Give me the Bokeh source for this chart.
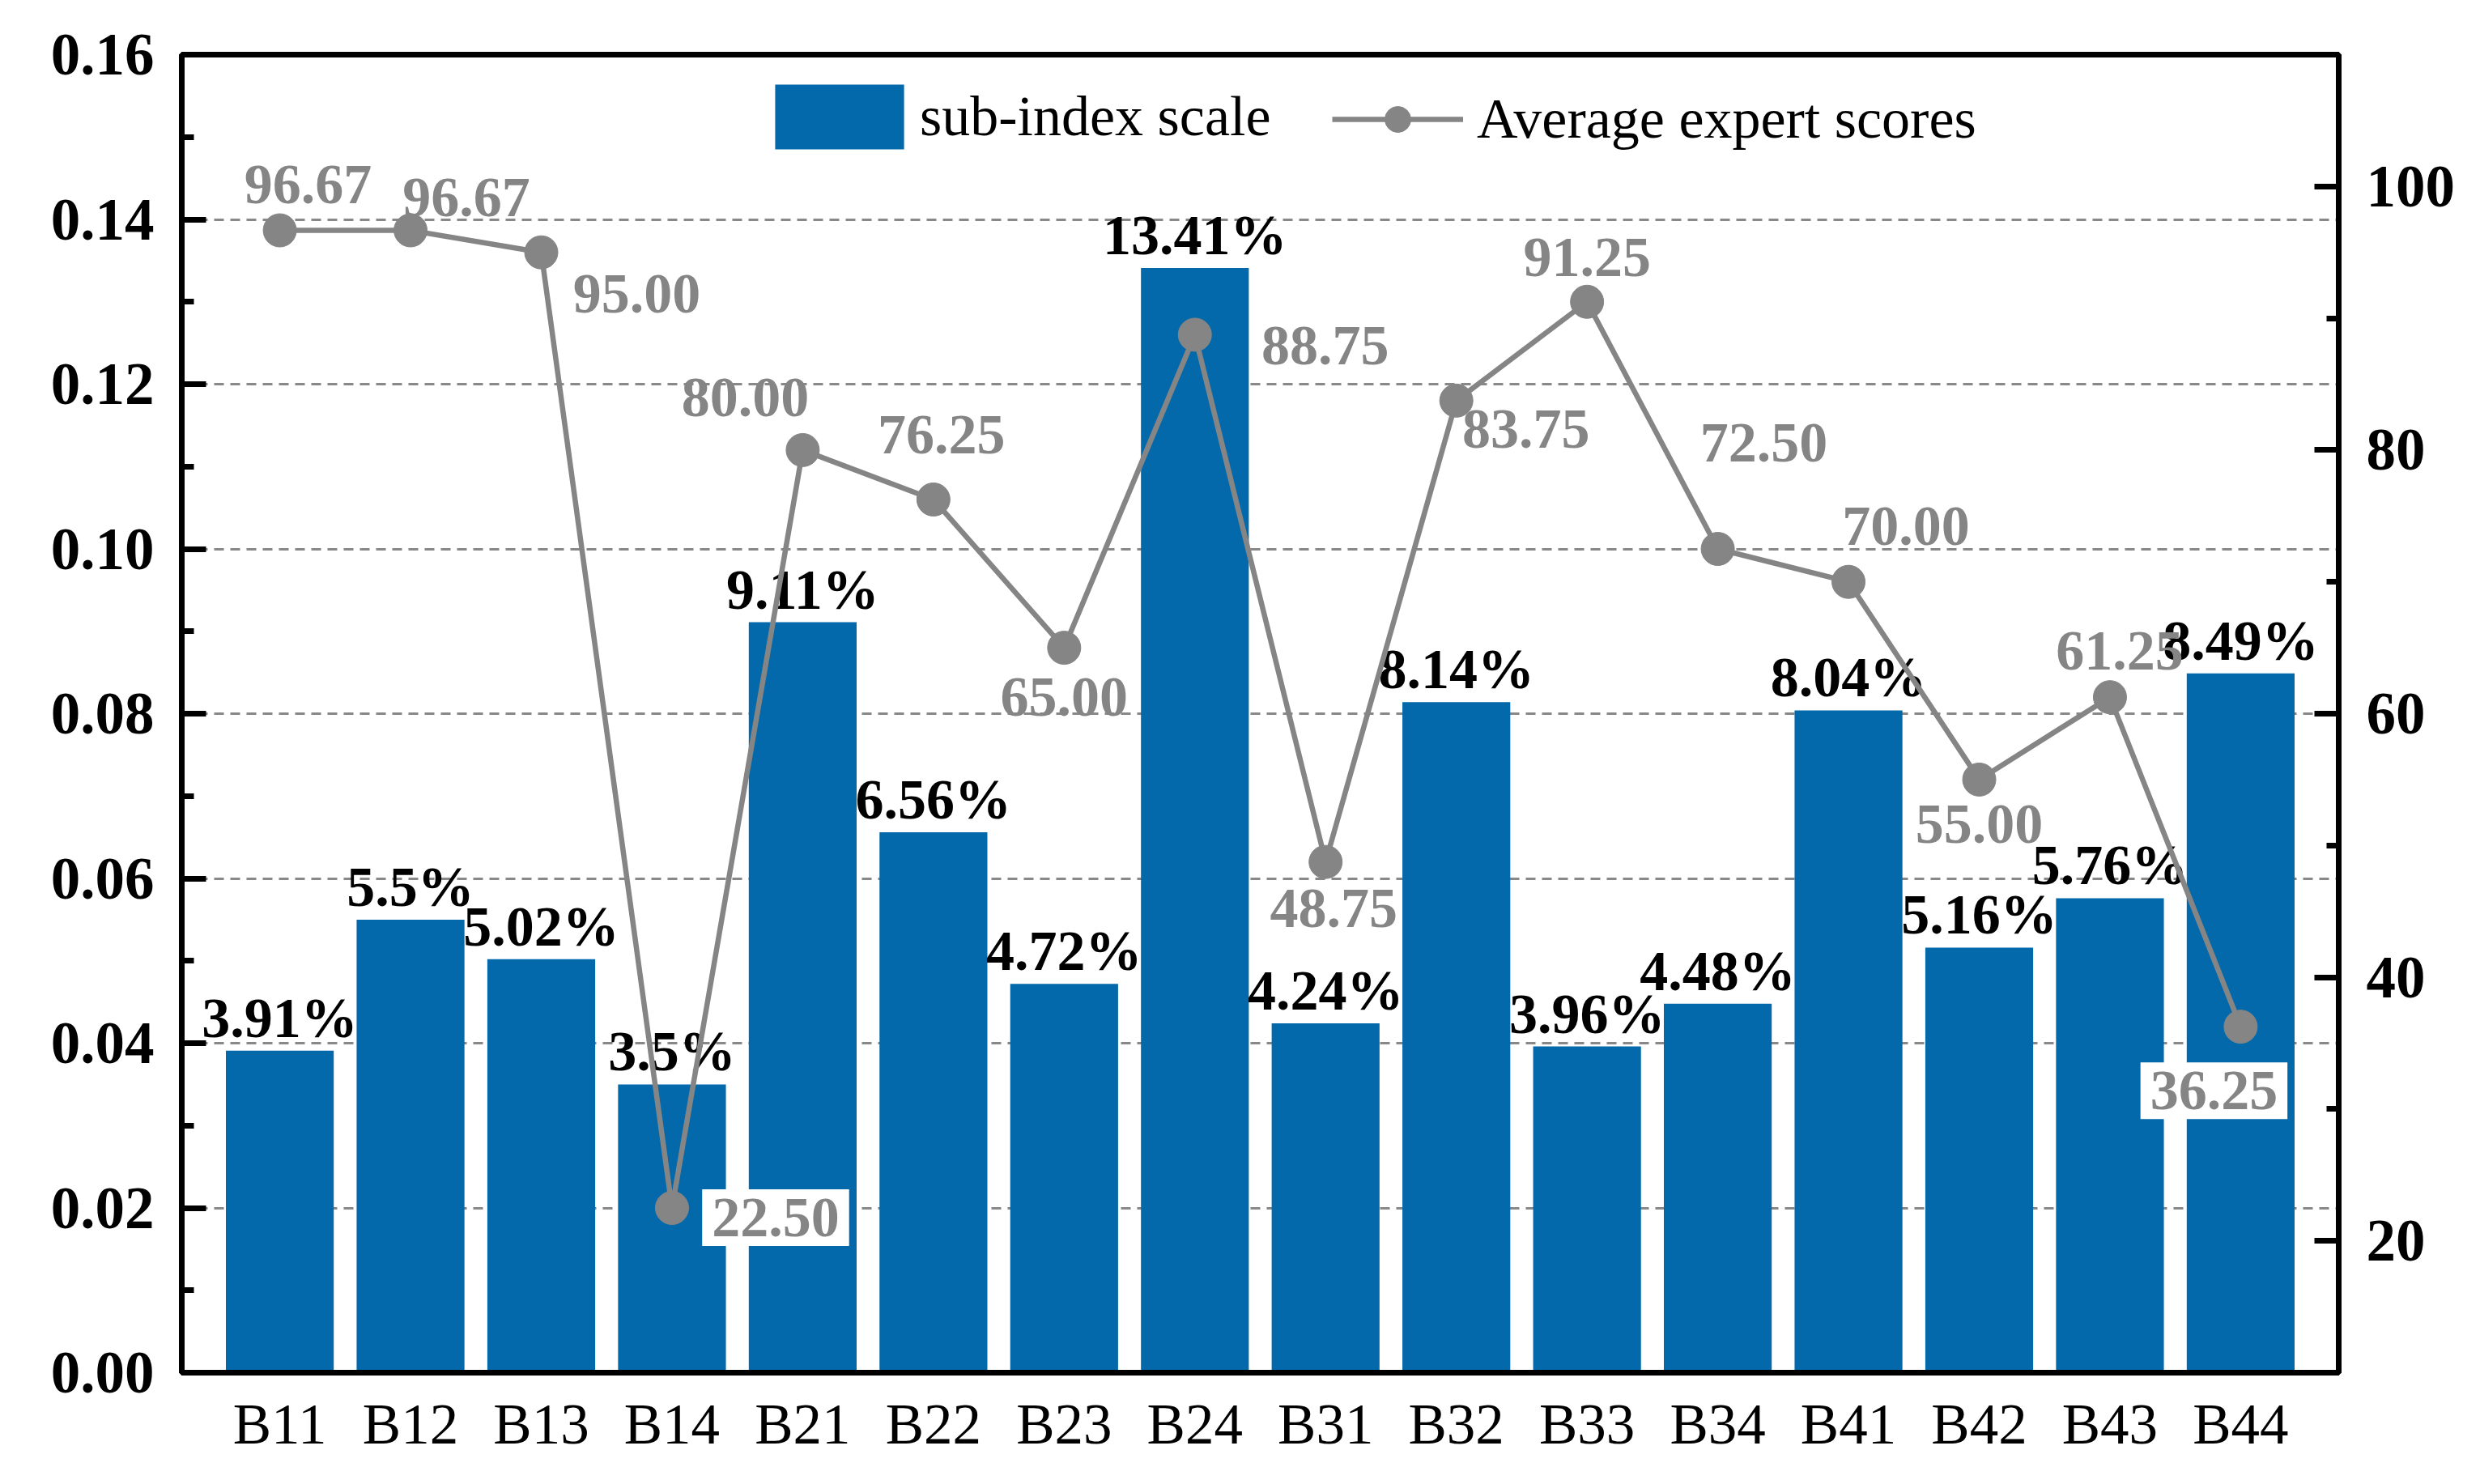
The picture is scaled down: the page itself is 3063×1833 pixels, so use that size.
from bokeh.plotting import figure
from bokeh.models import (ColumnDataSource, FactorRange, Range1d, LinearAxis,
                          FixedTicker, NumeralTickFormatter, Legend, LegendItem)
from bokeh.core.properties import value
from bokeh.embed import file_html
from bokeh.resources import INLINE

# ---------------- data ----------------
categories = ["B11", "B12", "B13", "B14", "B21", "B22", "B23", "B24",
              "B31", "B32", "B33", "B34", "B41", "B42", "B43", "B44"]
sub_index_scale = [0.0391, 0.0550, 0.0502, 0.0350, 0.0911, 0.0656, 0.0472, 0.1341,
                   0.0424, 0.0814, 0.0396, 0.0448, 0.0804, 0.0516, 0.0576, 0.0849]
bar_labels = ["3.91%", "5.5%", "5.02%", "3.5%", "9.11%", "6.56%", "4.72%", "13.41%",
              "4.24%", "8.14%", "3.96%", "4.48%", "8.04%", "5.16%", "5.76%", "8.49%"]
expert_scores = [96.67, 96.67, 95.00, 22.50, 80.00, 76.25, 65.00, 88.75,
                 48.75, 83.75, 91.25, 72.50, 70.00, 55.00, 61.25, 36.25]
left_ticks = [0.00, 0.02, 0.04, 0.06, 0.08, 0.10, 0.12, 0.14, 0.16]
left_minor = [0.01, 0.03, 0.05, 0.07, 0.09, 0.11, 0.13, 0.15]
grid_ticks = [0.02, 0.04, 0.06, 0.08, 0.10, 0.12, 0.14]
right_ticks = [20, 40, 60, 80, 100]
right_minor = [10, 30, 50, 70, 90, 110]

# ---------------- style (label placement, pixels) ----------------
score_dx = [35, 69, 118, 128, -71, 10, 0, 161, 10, 86, 0, 57, 71, 0, 12, -33]
score_dy = [-57, -41, 51, 12, -65, -80, 61, 14, 57, 35, -55, -131, -69, 55, -57, 79]
score_box = [0, 0, 0, 1, 0, 0, 0, 0, 0, 0, 0, 0, 0, 0, 0, 1]

BLUE = "#0369aa"
GRAY = "#858585"
FONT_NAME = "Liberation Serif"
FONT = value(FONT_NAME)

src = ColumnDataSource(dict(
    cat=categories,
    scale=sub_index_scale,
    bar_label=bar_labels,
    score=expert_scores,
    score_label=["%.2f" % v for v in expert_scores],
    dx=score_dx,
    dy=score_dy,
    box=score_box,
))

p = figure(width=3047, height=1817,
           x_range=FactorRange(factors=categories, range_padding=0.25,
                               range_padding_units="absolute"),
           y_range=Range1d(0, 0.16),
           output_backend="svg", toolbar_location=None,
           min_border_left=224, min_border_right=159,
           min_border_top=67, min_border_bottom=122)
p.extra_y_ranges = {"score": Range1d(10, 110)}

p.background_fill_color = "white"
p.outline_line_color = "black"
p.outline_line_width = 7

# grid
p.xgrid.visible = False
p.ygrid.ticker = FixedTicker(ticks=grid_ticks)
p.ygrid.grid_line_color = "#888888"
p.ygrid.grid_line_width = 3
p.ygrid.grid_line_dash = "12 8"

# bars
bars = p.vbar(x="cat", top="scale", width=0.825, source=src,
              fill_color=BLUE, line_color=None)

# bar labels
p.text(x="cat", y="scale", text="bar_label", source=src,
       text_align="center", text_baseline="bottom", y_offset=-2,
       text_font=FONT, text_font_style="bold", text_font_size="70px",
       text_color="black")

# line + markers
line_r = p.line(x="cat", y="score", source=src, y_range_name="score",
                line_color=GRAY, line_width=6.5)
pts = p.scatter(x="cat", y="score", source=src, y_range_name="score",
                size=41, fill_color=GRAY, line_color=GRAY)

# score labels
p.text(x="cat", y="score", text="score_label", source=src, y_range_name="score",
       x_offset="dx", y_offset="dy",
       text_align="center", text_baseline="middle",
       text_font=FONT, text_font_style="bold", text_font_size="70px",
       text_color=GRAY,
       background_fill_color="white", background_fill_alpha="box",
       padding=12)

# left axis
ya = p.yaxis[0]
ya.ticker = FixedTicker(ticks=left_ticks, minor_ticks=left_minor)
ya.formatter = NumeralTickFormatter(format="0.00")

# right axis
ra = LinearAxis(y_range_name="score",
                ticker=FixedTicker(ticks=right_ticks, minor_ticks=right_minor))
p.add_layout(ra, "right")

for ax in (ya, ra):
    ax.axis_line_width = 7
    ax.major_tick_line_width = 7
    ax.minor_tick_line_width = 7
    ax.major_tick_in = 30
    ax.major_tick_out = 0
    ax.minor_tick_in = 15
    ax.minor_tick_out = 0
    ax.major_label_text_font = FONT_NAME
    ax.major_label_text_font_style = "bold"
    ax.major_label_text_font_size = "73px"
    ax.major_label_text_color = "black"
    ax.major_label_standoff = 34

xa = p.xaxis[0]
xa.axis_line_width = 7
xa.major_tick_in = 0
xa.major_tick_out = 0
xa.minor_tick_line_color = None
xa.major_label_text_font = FONT_NAME
xa.major_label_text_font_style = "normal"
xa.major_label_text_font_size = "71px"
xa.major_label_text_color = "black"
xa.major_label_standoff = 24

legend_common = dict(orientation="horizontal", padding=0, margin=0, spacing=0,
                     border_line_alpha=0, background_fill_alpha=0,
                     label_text_font=FONT_NAME, label_text_font_size="70px",
                     label_text_color="black")
legend_bar = Legend(items=[LegendItem(label="sub-index scale", renderers=[bars])],
                    location=(713, 1501), glyph_width=199, glyph_height=100,
                    label_standoff=0, **legend_common)
legend_line = Legend(items=[LegendItem(label="Average expert scores",
                                       renderers=[line_r, pts])],
                     location=(1421, 1508), glyph_width=162, glyph_height=80,
                     label_standoff=17, **legend_common)
p.add_layout(legend_bar)
p.add_layout(legend_line)

open("out.html", "w").write(file_html(p, INLINE))
